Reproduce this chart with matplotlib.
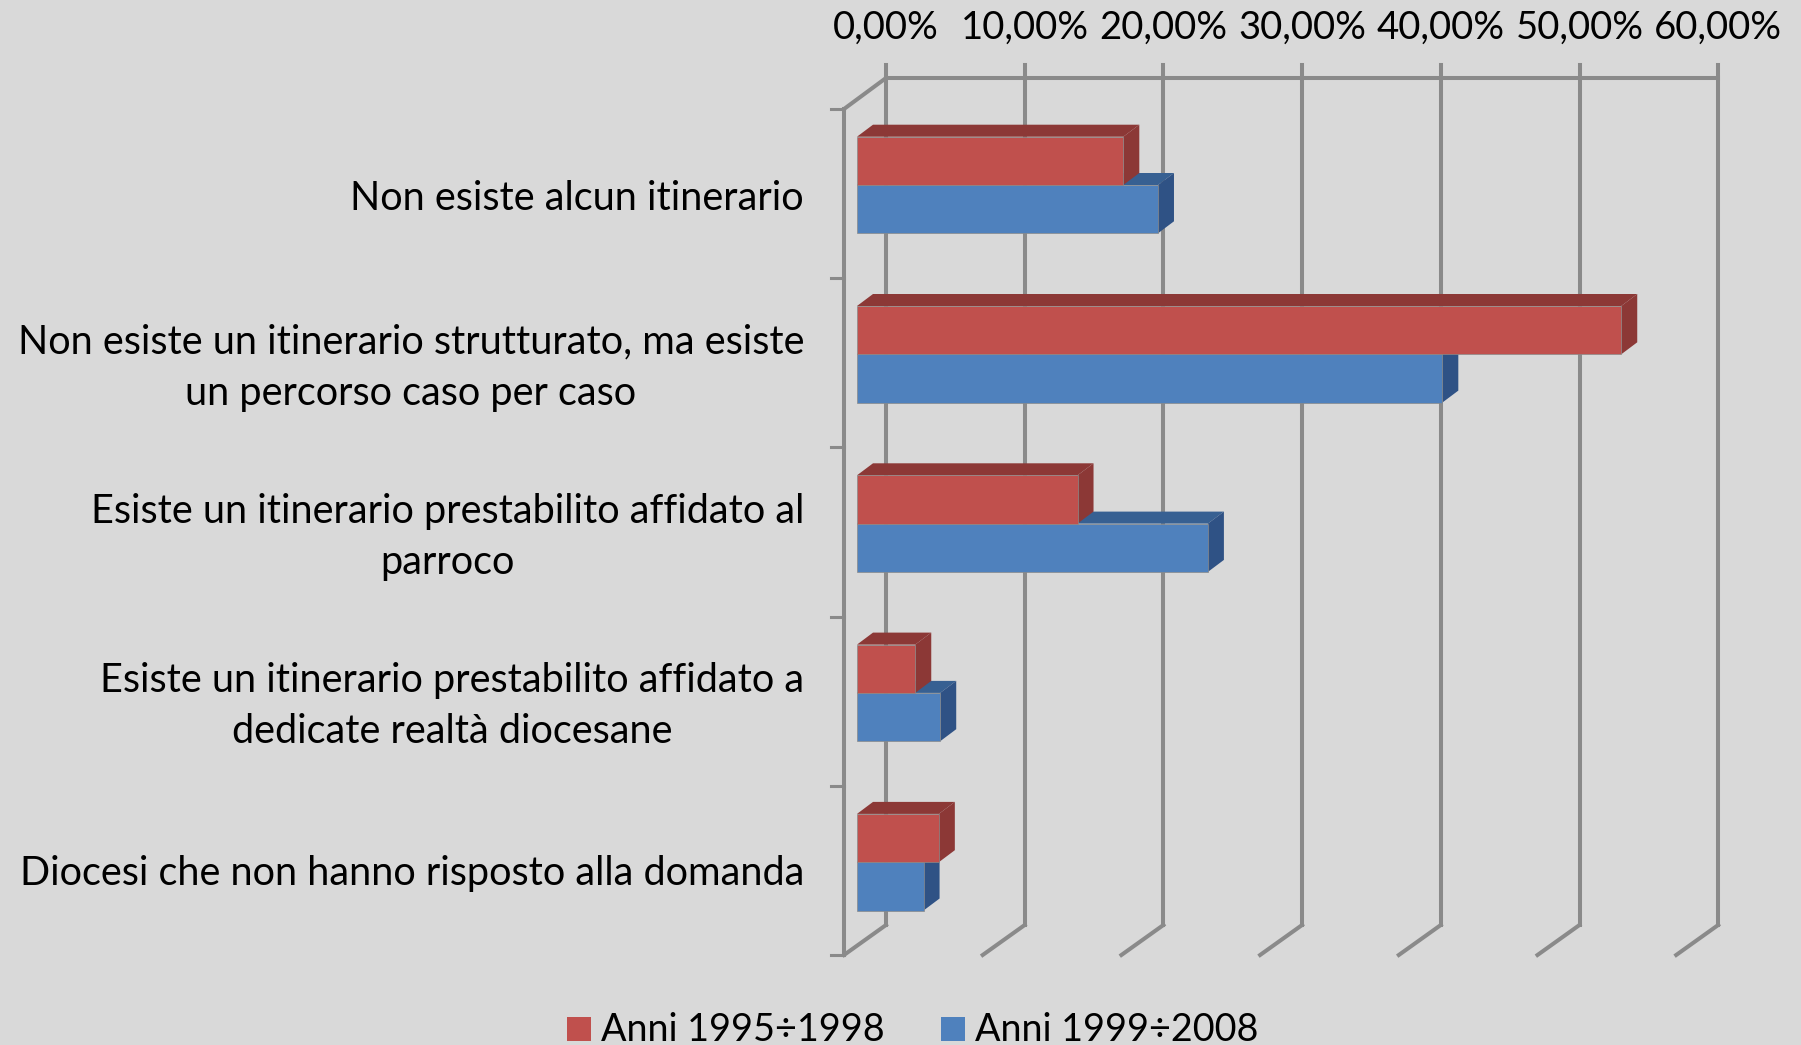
import matplotlib
matplotlib.use("Agg")
import matplotlib.pyplot as plt
from matplotlib.patches import Polygon, Rectangle

plt.rcParams["font.family"] = ["Lato", "DejaVu Sans"]

categories = [
    "Non esiste alcun itinerario",
    "Non esiste un itinerario strutturato, ma esiste\nun percorso caso per caso",
    "Esiste un itinerario prestabilito affidato al\nparroco",
    "Esiste un itinerario prestabilito affidato a\ndedicate realtà diocesane",
    "Diocesi che non hanno risposto alla domanda",
]
series_names = ["Anni 1995÷1998", "Anni 1999÷2008"]
values_1995 = [19.2, 55.1, 15.9, 4.2, 5.9]
values_1999 = [21.7, 42.2, 25.3, 6.0, 4.8]
x_ticks = [0, 10, 20, 30, 40, 50, 60]
x_tick_labels = ["0,00%", "10,00%", "20,00%", "30,00%", "40,00%", "50,00%", "60,00%"]

BG = "#D9D9D9"
GRID = "#8A8A8A"
RED, RED_DARK = "#C0504D", "#8C3836"
BLUE, BLUE_DARK, BLUE_TOP = "#4F81BD", "#2F5285", "#376092"
FS = 28.55

W, H = 1801, 1045
PX_X = 13.87    # pixels per percent
PX_Y = 169.3    # pixels per category
X0, Y0 = 857, 185   # pixel of value 0 / first category centre

fig = plt.figure(figsize=(W / 100, H / 100), dpi=100, facecolor=BG)
ax = fig.add_axes([0, 0, 1, 1])
ax.set_xlim(-X0 / PX_X, (W - X0) / PX_X)
ax.set_ylim((H - Y0) / PX_Y, -Y0 / PX_Y)
ax.axis("off")


def dx(px):
    return px / PX_X


def dy(px):
    return px / PX_Y


# pixel offsets of the pseudo 3D frame, relative to the bar plane
back_dx, front_dx = dx(29), dx(-13)
wall_top, wall_bottom = dy(78 - Y0), dy(925 - Y0)
front_top, front_bottom = dy(109 - Y0), dy(955 - Y0)
line = dict(color=GRID, lw=2.9, solid_capstyle="projecting", zorder=1)

# back wall
ax.plot([back_dx, back_dx + x_ticks[-1]], [wall_top, wall_top], **line)
for tick, label in zip(x_ticks, x_tick_labels):
    x = back_dx + tick
    ax.plot([x, x], [wall_top - dy(13), wall_bottom], **line)
    ax.plot([x, front_dx + tick], [wall_bottom, front_bottom], **line)
    ax.text(x, dy(28 - Y0), label, ha="center", va="center", fontsize=27.6, color="black")

# front wall with category ticks
ax.plot([front_dx, front_dx], [front_top, front_bottom], **line)
ax.plot([front_dx, back_dx], [front_top, wall_top], **line)
for i in range(len(categories) + 1):
    y = front_top + i * (front_bottom - front_top) / len(categories)
    ax.plot([front_dx - dx(13), front_dx], [y, y], color=GRID, lw=2.2, zorder=1)

# bars: blue first, the red faces sit over the blue tops
bar_h = dy(48.3)
depth_x, depth_y = dx(16), dy(12)


def draw_bars(values, offset, face, top, side, z):
    for i, v in enumerate(values):
        y0 = i + offset - bar_h / 2
        y1 = i + offset + bar_h / 2
        ax.add_patch(Polygon([(0, y0), (v, y0), (v + depth_x, y0 - depth_y), (depth_x, y0 - depth_y)],
                             facecolor=top, edgecolor="none", zorder=z))
        ax.add_patch(Polygon([(v, y0), (v + depth_x, y0 - depth_y), (v + depth_x, y1 - depth_y), (v, y1)],
                             facecolor=side, edgecolor="none", zorder=z))
    ax.barh([i + offset for i in range(len(values))], values, height=bar_h, left=0,
            color=face, edgecolor="#8a8a8a", linewidth=0.5, zorder=z + 0.1)


draw_bars(values_1999, bar_h / 2, BLUE, BLUE_TOP, BLUE_DARK, 2)
draw_bars(values_1995, -bar_h / 2, RED, RED_DARK, RED_DARK, 3)

# category labels
label_y = [198, 368, 537, 706, 874]
for i, cat in enumerate(categories):
    ax.text(dx(804 - X0), dy(label_y[i] - Y0), cat, ha="right", va="center",
            multialignment="center", fontsize=FS, color="black", linespacing=1.47)

# legend
legend_x = [567, 941]
legend_colors = [RED, BLUE]
for px, name, c in zip(legend_x, series_names, legend_colors):
    ax.add_patch(Rectangle((dx(px - X0), dy(1017 - Y0)), dx(24), dy(24), facecolor=c, edgecolor="none"))
    ax.text(dx(px + 34 - X0), dy(1041 - Y0), name, ha="left", va="baseline", fontsize=27.2, color="black")

fig.savefig("out.png", dpi=100, facecolor=BG)
